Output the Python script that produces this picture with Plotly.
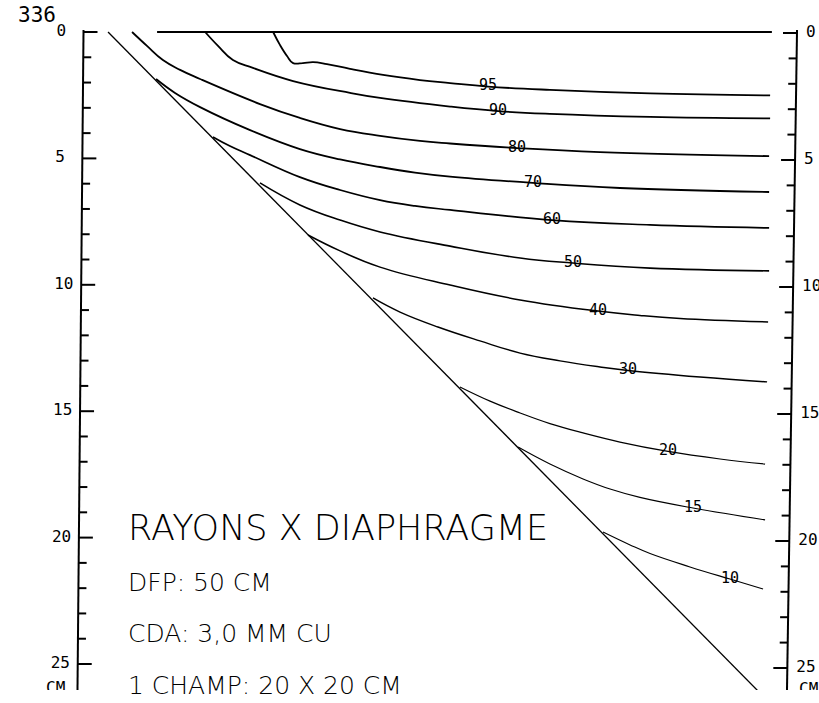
import plotly.graph_objects as go

# ---------------- data (depth in cm, lateral position in cm) ----------------
levels = [95, 90, 80, 70, 60, 50, 40, 30, 20, 15, 10]

iso95_x = [7.56, 7.83, 8.11, 8.35, 8.74, 9.14, 9.69, 10.60, 11.91, 13.37, 14.56, 16.06, 18.51, 22.47, 27.22]
iso95_y = [0.00, 0.51, 0.95, 1.23, 1.23, 1.19, 1.27, 1.46, 1.70, 1.90, 2.02, 2.16, 2.29, 2.43, 2.51]

iso90_x = [4.87, 5.38, 5.97, 6.76, 8.35, 10.60, 11.79, 14.56, 16.46, 18.51, 22.47, 27.22]
iso90_y = [0.00, 0.55, 1.11, 1.42, 1.94, 2.41, 2.61, 2.95, 3.13, 3.24, 3.36, 3.42]

iso80_x = [1.98, 2.57, 3.20, 3.88, 4.67, 7.04, 8.62, 10.21, 11.79, 13.37, 14.56, 17.21, 20.49, 27.18]
iso80_y = [0.00, 0.55, 1.11, 1.50, 1.86, 2.85, 3.40, 3.84, 4.11, 4.31, 4.41, 4.59, 4.75, 4.91]

iso70_x = [2.93, 3.68, 4.67, 6.65, 8.62, 10.21, 11.79, 13.17, 14.56, 17.84, 21.28, 27.18]
iso70_y = [1.86, 2.41, 2.97, 3.88, 4.63, 5.04, 5.34, 5.56, 5.72, 5.97, 6.17, 6.33]

iso60_x = [5.18, 5.85, 6.65, 8.62, 10.21, 11.79, 13.17, 14.56, 18.59, 22.47, 27.18]
iso60_y = [4.15, 4.51, 4.87, 5.74, 6.25, 6.65, 6.88, 7.04, 7.44, 7.63, 7.75]

iso50_x = [7.04, 8.62, 10.21, 11.79, 14.56, 17.33, 19.42, 22.47, 27.18]
iso50_y = [5.97, 6.84, 7.44, 7.91, 8.47, 8.94, 9.14, 9.34, 9.45]

iso40_x = [8.94, 10.21, 11.79, 14.56, 17.33, 20.41, 22.07, 23.66, 27.14]
iso40_y = [8.03, 8.66, 9.30, 10.01, 10.60, 11.04, 11.21, 11.33, 11.47]

iso30_x = [11.51, 12.58, 14.08, 15.74, 17.33, 18.91, 20.49, 21.60, 24.45, 27.10]
iso30_y = [10.52, 11.08, 11.67, 12.22, 12.70, 13.01, 13.25, 13.39, 13.65, 13.84]

iso20_x = [14.95, 16.14, 17.33, 18.51, 19.82, 21.28, 23.18, 25.24, 27.02]
iso20_y = [14.04, 14.60, 15.07, 15.49, 15.86, 16.22, 16.59, 16.89, 17.09]

iso15_x = [17.25, 18.51, 19.82, 20.89, 22.07, 24.17, 27.02]
iso15_y = [16.42, 17.09, 17.68, 18.08, 18.41, 18.83, 19.30]

iso10_x = [20.61, 21.68, 22.47, 24.05, 25.63, 26.94]
iso10_y = [19.78, 20.29, 20.63, 21.16, 21.64, 22.03]

# lateral position of each isodose label (same order as levels)
label_x = [16.06, 16.46, 17.21, 17.84, 18.59, 19.42, 20.41, 21.60, 23.18, 24.17, 25.63]

# beam edge line and surface line
edge_x = [1.03, 27.00]
edge_y = [0.00, 26.33]
surface_x = [2.97, 27.29]
surface_y = [0.00, 0.00]

tick_depths = list(range(0, 26))
tick_label_depths = [0, 5, 10, 15, 20, 25]
tick_labels = ["0", "5", "10", "15", "20", "25"]

title_lines = ["RAYONS X DIAPHRAGME", "DFP: 50 CM", "CDA: 3,0 MM CU", "1 CHAMP: 20 X 20 CM"]
corner_text = "336"
unit_text = "CM"

# ---------------- layout constants ----------------
W, H = 819, 703
S = 25.28            # px per cm
X0, Y0 = 82, 32      # pixel of x=0 / depth=0
BOTTOM = 690         # bottom of the visible drawing
xr = [-X0 / S, (W - X0) / S]
yr = [(BOTTOM - Y0) / S, -Y0 / S]

FONT = "DejaVu Sans Mono"
TITLE_FONT = "DejaVu Sans"
BLACK = "#000000"


def px_x(p):
    return (p - X0) / S


def px_y(p):
    return (p - Y0) / S


def left_axis_x(d):
    return px_x(83.5) + (px_x(77.5) - px_x(83.5)) * d / 26.0


def right_axis_x(d):
    return px_x(797) + (px_x(787) - px_x(797)) * d / 26.0


def right_depth(d):
    return (1 + d * 25.4) / S


curves = [
    (iso95_x, iso95_y, 1.8), (iso90_x, iso90_y, 1.8), (iso80_x, iso80_y, 1.8),
    (iso70_x, iso70_y, 1.8), (iso60_x, iso60_y, 1.7), (iso50_x, iso50_y, 1.6),
    (iso40_x, iso40_y, 1.5), (iso30_x, iso30_y, 1.4), (iso20_x, iso20_y, 1.2),
    (iso15_x, iso15_y, 1.1), (iso10_x, iso10_y, 1.1),
]

fig = go.Figure()

# surface and beam edge
fig.add_trace(go.Scatter(x=surface_x, y=surface_y, mode="lines",
                         line=dict(color=BLACK, width=1.8), hoverinfo="skip"))
fig.add_trace(go.Scatter(x=edge_x, y=edge_y, mode="lines",
                         line=dict(color=BLACK, width=1.3), hoverinfo="skip"))

# isodose curves
for (cx, cy, lw) in curves:
    fig.add_trace(go.Scatter(x=cx, y=cy, mode="lines",
                             line=dict(color=BLACK, width=lw, shape="spline", smoothing=1.2),
                             hoverinfo="skip"))


def interp(xs, ys, xv):
    for i in range(len(xs) - 1):
        if xs[i] <= xv <= xs[i + 1]:
            t = (xv - xs[i]) / (xs[i + 1] - xs[i])
            return ys[i] + t * (ys[i + 1] - ys[i])
    return ys[-1]


lab_y = [interp(c[0], c[1], lx) for c, lx in zip(curves, label_x)]
fig.add_trace(go.Scatter(x=label_x, y=lab_y, mode="text",
                         text=[str(v) for v in levels], textposition="middle center",
                         textfont=dict(family=FONT, size=15, color=BLACK),
                         hoverinfo="skip", cliponaxis=False))

# axes (slightly slanted as on the original plot)
ax_top, ax_bot = px_y(30), px_y(700)
fig.add_trace(go.Scatter(x=[left_axis_x(ax_top), left_axis_x(ax_bot)], y=[ax_top, ax_bot],
                         mode="lines", line=dict(color=BLACK, width=2), hoverinfo="skip"))
fig.add_trace(go.Scatter(x=[right_axis_x(ax_top), right_axis_x(ax_bot)], y=[ax_top, ax_bot],
                         mode="lines", line=dict(color=BLACK, width=2), hoverinfo="skip"))

tx, ty = [], []
for d in tick_depths:
    ln = (14 if d % 5 == 0 else 8) / S
    xl = left_axis_x(d)
    tx += [xl, xl + ln, None]
    ty += [d, d, None]
    dr = right_depth(d)
    xrt = right_axis_x(dr)
    tx += [xrt, xrt - ln, None]
    ty += [dr, dr, None]
fig.add_trace(go.Scatter(x=tx, y=ty, mode="lines", line=dict(color=BLACK, width=2),
                         hoverinfo="skip"))

# tick labels
fig.add_trace(go.Scatter(x=[left_axis_x(d) - 27 / S for d in tick_label_depths], y=tick_label_depths,
                         mode="text", text=tick_labels, textposition="middle right",
                         textfont=dict(family=FONT, size=16, color=BLACK),
                         hoverinfo="skip", cliponaxis=False))
fig.add_trace(go.Scatter(x=[right_axis_x(right_depth(d)) + 9 / S for d in tick_label_depths],
                         y=[right_depth(d) for d in tick_label_depths],
                         mode="text", text=tick_labels, textposition="middle right",
                         textfont=dict(family=FONT, size=16, color=BLACK),
                         hoverinfo="skip", cliponaxis=False))

# unit labels (cut off by the lower edge of the drawing)
fig.add_trace(go.Scatter(x=[px_x(46), px_x(799)], y=[px_y(689), px_y(690)],
                         mode="text", text=[unit_text, unit_text], textposition="middle right",
                         textfont=dict(family=FONT, size=16, color=BLACK),
                         hoverinfo="skip", cliponaxis=True))

annotations = [
    dict(x=px_x(16), y=px_y(15), xref="x", yref="y", text=corner_text, showarrow=False,
         xanchor="left", yanchor="middle", font=dict(family=FONT, size=21, color=BLACK)),
    dict(x=px_x(126), y=px_y(528), xref="x", yref="y", text=title_lines[0], showarrow=False,
         xanchor="left", yanchor="middle",
         font=dict(family=TITLE_FONT, size=35, color=BLACK, weight=200)),
]
for t, yc in zip(title_lines[1:], [582, 633, 685]):
    annotations.append(dict(x=px_x(126), y=px_y(yc), xref="x", yref="y", text=t, showarrow=False,
                            xanchor="left", yanchor="middle",
                            font=dict(family=TITLE_FONT, size=25, color=BLACK, weight=200)))

fig.update_layout(
    width=W, height=H,
    margin=dict(l=0, r=0, t=0, b=H - BOTTOM, pad=0),
    paper_bgcolor="white", plot_bgcolor="white",
    showlegend=False,
    xaxis=dict(range=xr, visible=False, fixedrange=True),
    yaxis=dict(range=yr, visible=False, fixedrange=True),
    annotations=annotations,
)

fig.write_html("out.html", config={"displayModeBar": False},
               post_script="document.body.style.margin='0px';document.body.style.overflow='hidden';")
